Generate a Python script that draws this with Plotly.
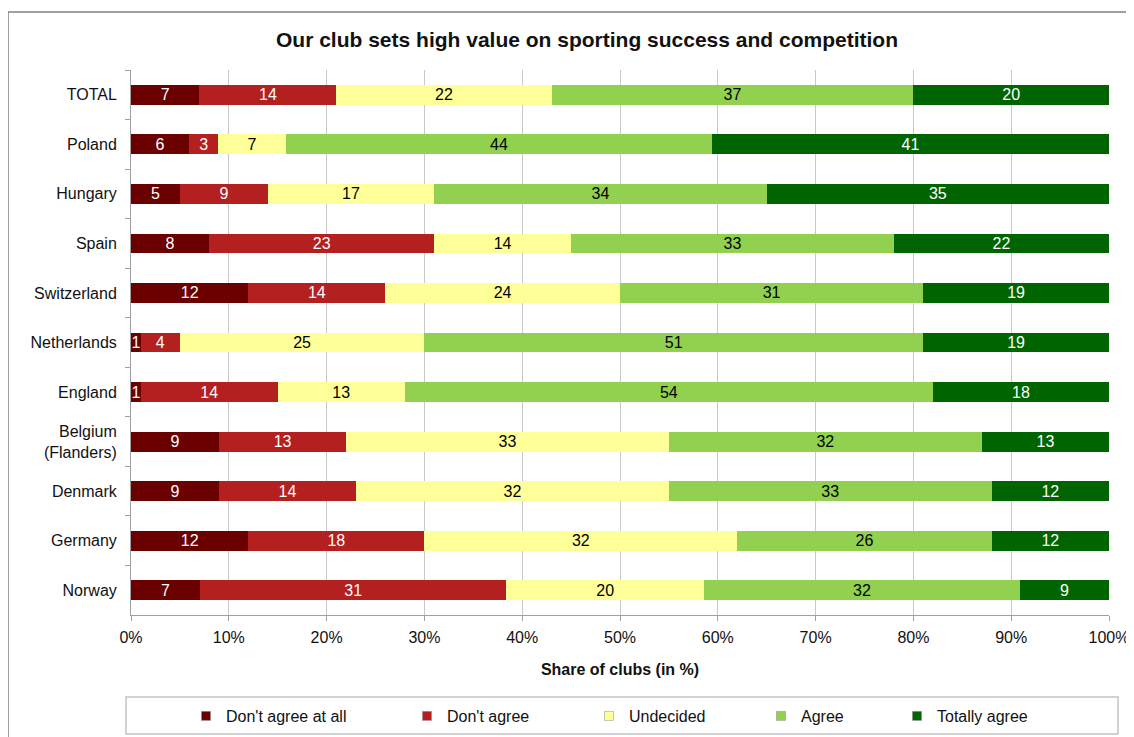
import plotly.graph_objects as go

# ---- data ----
countries = ["TOTAL", "Poland", "Hungary", "Spain", "Switzerland", "Netherlands",
             "England", "Belgium<br>(Flanders)", "Denmark", "Germany", "Norway"]
series_names = ["Don't agree at all", "Don't agree", "Undecided", "Agree", "Totally agree"]
dont_agree_at_all = [7, 6, 5, 8, 12, 1, 1, 9, 9, 12, 7]
dont_agree = [14, 3, 9, 23, 14, 4, 14, 13, 14, 18, 31]
undecided = [22, 7, 17, 14, 24, 25, 13, 33, 32, 32, 20]
agree = [37, 44, 34, 33, 31, 51, 54, 32, 33, 26, 32]
totally_agree = [20, 41, 35, 22, 19, 19, 18, 13, 12, 12, 9]
x_tick_values = [0, 10, 20, 30, 40, 50, 60, 70, 80, 90, 100]
x_tick_labels = ["0%", "10%", "20%", "30%", "40%", "50%", "60%", "70%", "80%", "90%", "100%"]

series_values = [dont_agree_at_all, dont_agree, undecided, agree, totally_agree]
colors = ["#6B0000", "#B41F1F", "#FFFF99", "#92D050", "#006400"]
text_colors = ["white", "white", "black", "black", "white"]

FONT = "Liberation Sans, Arial, sans-serif"

# page has an 8px body margin on top/left; figure sized so page is 1134x737
OFF = 8
W, H = 1134 - OFF, 737 - OFF
# plot area in page pixels: x 131..1109, y 70..615
L, R = 131 - OFF, W - (1109 - OFF)
T, B = 70 - OFF, H - (615 - OFF)
pw, ph = W - L - R, H - T - B


def px_x(px):
    return (px - OFF - L) / pw


def px_y(py):
    return (H - B - (py - OFF)) / ph


fig = go.Figure()
for name, vals, col, tcol in zip(series_names, series_values, colors, text_colors):
    fig.add_trace(go.Bar(
        y=countries, x=vals, name=name, orientation="h",
        marker=dict(color=col, line=dict(width=0)),
        text=[str(v) for v in vals], textposition="inside",
        insidetextanchor="middle", textangle=0, constraintext="none",
        insidetextfont=dict(color=tcol, size=16, family=FONT),
        width=0.4, showlegend=False,
    ))

# legend entries (one legend per entry to match spacing)
text_starts = [226, 447, 629, 801, 937]
legend_ids = ["legend", "legend2", "legend3", "legend4", "legend5"]
legend_layout = {}
for name, col, ts, lid in zip(series_names, colors, text_starts, legend_ids):
    fig.add_trace(go.Scatter(
        x=[None], y=[None], mode="markers", name=name,
        marker=dict(symbol="square", size=9, color=col,
                    line=dict(width=0.5, color="#888888")),
        legend=lid, showlegend=True,
    ))
    legend_layout[lid] = dict(
        x=px_x(ts - 40), y=px_y(716), xanchor="left", yanchor="middle",
        orientation="h", bgcolor="rgba(0,0,0,0)", borderwidth=0,
        font=dict(size=16, family=FONT, color="#111111"), itemwidth=30,
    )

shapes = [
    # outer frame (top and left edges visible)
    dict(type="line", xref="paper", yref="paper", x0=px_x(8), x1=px_x(1150),
         y0=px_y(12), y1=px_y(12), line=dict(color="#808080", width=1.5)),
    dict(type="line", xref="paper", yref="paper", x0=px_x(8), x1=px_x(8),
         y0=px_y(12), y1=px_y(760), line=dict(color="#808080", width=1.5)),
    # legend box
    dict(type="rect", xref="paper", yref="paper", x0=px_x(126), x1=px_x(1118),
         y0=px_y(734), y1=px_y(697), line=dict(color="#C4C4C4", width=1.5),
         fillcolor="rgba(0,0,0,0)"),
]

fig.update_layout(
    width=W, height=H,
    margin=dict(l=L, r=R, t=T, b=B, pad=0, autoexpand=False),
    barmode="stack", barnorm="percent",
    paper_bgcolor="white", plot_bgcolor="white",
    font=dict(family=FONT, size=16, color="#111111"),
    title=dict(text="<b>Our club sets high value on sporting success and competition</b>",
               xref="container", x=(587 - OFF) / W, xanchor="center",
               yref="container", y=1 - (40 - OFF) / H, yanchor="middle",
               font=dict(size=21, family=FONT, color="#111111")),
    xaxis=dict(range=[0, 100], tickvals=x_tick_values, ticktext=x_tick_labels,
               showgrid=True, gridcolor="#C8C8C8", gridwidth=1,
               showline=True, linecolor="#A0A0A0", linewidth=1,
               ticks="outside", ticklen=5, tickcolor="#A0A0A0",
               ticklabelstandoff=3, zeroline=False, ticklabeloverflow="allow",
               tickfont=dict(size=16, family=FONT, color="#111111"),
               title=dict(text="<b>Share of clubs (in %)</b>", standoff=18,
                          font=dict(size=16, family=FONT, color="#111111"))),
    yaxis=dict(autorange="reversed", showgrid=False,
               showline=True, linecolor="#A0A0A0", linewidth=1,
               ticks="outside", ticklen=5, tickcolor="#A0A0A0",
               tickson="boundaries", ticklabelstandoff=10,
               tickfont=dict(size=16, family=FONT, color="#111111")),
    shapes=shapes,
    **legend_layout,
)

fig.write_html("out.html")
